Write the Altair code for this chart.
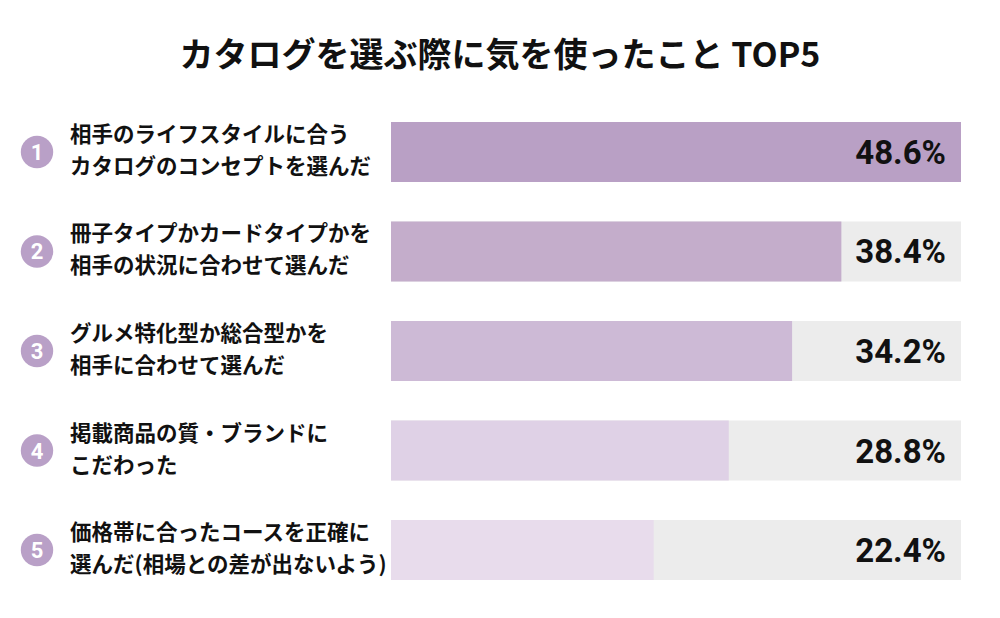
import altair as alt
import pandas as pd

ranks = [1, 2, 3, 4, 5]
labels = [
    "相手のライフスタイルに合う\nカタログのコンセプトを選んだ",
    "冊子タイプかカードタイプかを\n相手の状況に合わせて選んだ",
    "グルメ特化型か総合型かを\n相手に合わせて選んだ",
    "掲載商品の質・ブランドに\nこだわった",
    "価格帯に合ったコースを正確に\n選んだ(相場との差が出ないよう)",
]
values = [48.6, 38.4, 34.2, 28.8, 22.4]
bar_colors = ["#b9a0c5", "#c4adcb", "#cdbad6", "#dfd1e6", "#e8dcec"]
title_text = "カタログを選ぶ際に気を使ったこと TOP5"

vmax = max(values)
df = pd.DataFrame({
    "rank": ranks,
    "label": labels,
    "value": values,
    "track": [vmax] * len(values),
    "valtext": [f"{v:.1f}%" for v in values],
    "ranktext": [str(r) for r in ranks],
})

COND = "Roboto, sans-serif"

y_enc = alt.Y("rank:O", axis=None,
              scale=alt.Scale(domain=ranks, range=[122, 580],
                              paddingInner=0.397, paddingOuter=0))
x_scale = alt.Scale(domain=[0, vmax], range=[391, 961], nice=False, zero=True)

base = alt.Chart(df)

track = base.mark_bar(color="#ececec").encode(
    x=alt.X("track:Q", scale=x_scale, axis=None), y=y_enc)

bars = base.mark_bar().encode(
    x=alt.X("value:Q", scale=x_scale, axis=None), y=y_enc,
    color=alt.Color("rank:O", scale=alt.Scale(domain=ranks, range=bar_colors), legend=None))

vals = base.mark_text(align="right", baseline="middle", font=COND,
                      fontWeight="bold", fontSize=33, color="#111111", dy=2).encode(
    x=alt.value(946), y=y_enc, text="valtext:N")

circles = base.mark_circle(size=1050, opacity=1, color="#b9a0c7").encode(
    x=alt.value(37), y=y_enc)

nums = base.mark_text(align="center", baseline="middle", font=COND,
                      fontWeight="bold", fontSize=22, color="white", dy=1).encode(
    x=alt.value(37), y=y_enc, text="ranktext:N")

labs = base.mark_text(align="left", baseline="middle", font="Noto Sans CJK JP",
                      fontWeight="bold", fontSize=21.5, color="#111111",
                      lineBreak="\n", lineHeight=32, dy=-16).encode(
    x=alt.value(70), y=y_enc, text="label:N")

title = alt.Chart(pd.DataFrame({"t": [title_text]})).mark_text(
    align="center", baseline="middle", font="Noto Sans CJK JP", fontWeight="bold",
    fontSize=34, color="#111111").encode(x=alt.value(500), y=alt.value(57), text="t:N")

chart = alt.layer(track, bars, vals, circles, nums, labs, title).properties(
    width=1000, height=618, autosize=alt.AutoSizeParams(type="none"), padding=0,
    background="white"
).configure_view(stroke=None)

chart.save("out.html", embed_options={"renderer": "svg", "actions": False})
